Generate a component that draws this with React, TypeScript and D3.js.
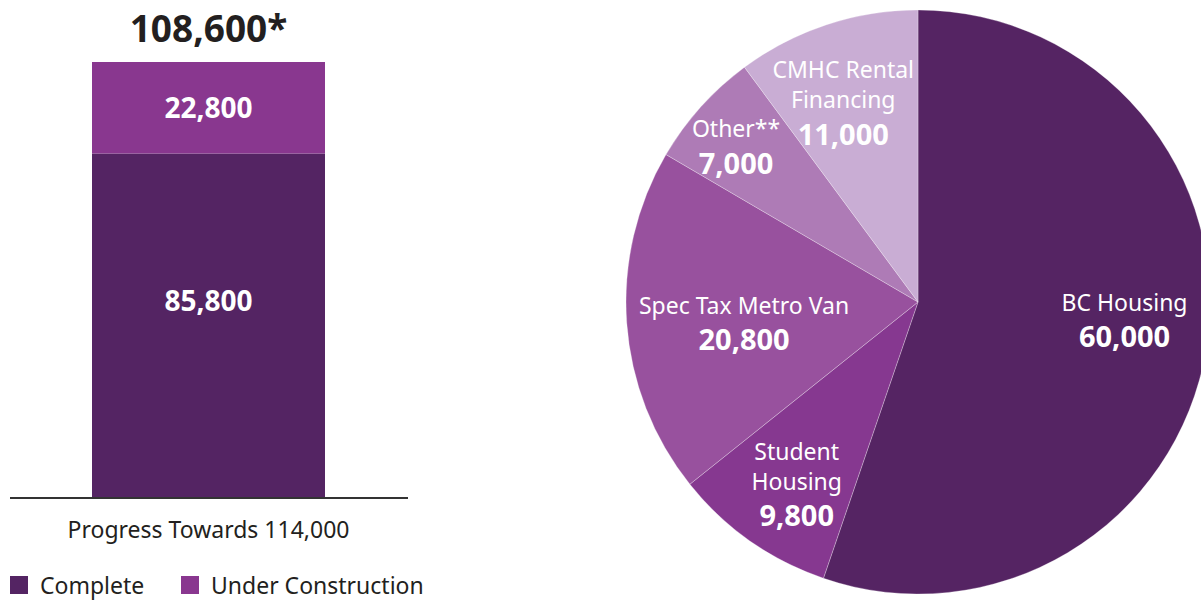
import React from 'react';
import * as d3 from 'd3';

const barSeries = ['Complete', 'Under Construction'];
const barValues = [85800, 22800];
const barColors = ['#542463', '#89378F'];
const barTotalLabel = '108,600*';
const barCaption = 'Progress Towards 114,000';

const pieNames = [
  ['BC Housing'],
  ['Student', 'Housing'],
  ['Spec Tax Metro Van'],
  ['Other**'],
  ['CMHC Rental', 'Financing'],
];
const pieValues = [60000, 9800, 20800, 7000, 11000];
const pieColors = ['#552463', '#863890', '#98519E', '#AE7BB6', '#C9ADD4'];
// label anchor in the slice, as [fraction of radius, angle shift in degrees]
const pieLabelPos = [
  [0.71, -4.5],
  [0.75, -1.5],
  [0.6, -2.7],
  [0.82, -1.4],
  [0.73, -2.3],
];

const fmt = d3.format(',');
const FONT = '"Noto Sans", "Open Sans", sans-serif';

const App = () => {
  const width = 1201;
  const height = 601;

  // bar
  const baseY = 498;
  const y = d3.scaleLinear().domain([0, d3.sum(barValues)]).range([baseY, 62]);
  const barX = 92;
  const barW = 233;
  const barCx = barX + barW / 2;
  const labelFrac = [0.57, 0.5];
  let acc = 0;
  const stacks = barValues.map((v, i) => {
    const s = { y0: acc, y1: acc + v, v, color: barColors[i] };
    acc += v;
    return s;
  });

  // pie
  const cx = 918;
  const cy = 302;
  const r = 292;
  const arcs = d3.pie<number>().sort(null).value(d => d)(pieValues);
  const arc = d3.arc<d3.PieArcDatum<number>>().innerRadius(0).outerRadius(r);

  return (
    <svg width={width} height={height} style={{ position: 'absolute', left: 0, top: 0, fontFamily: FONT }}>
      <rect width={width} height={height} fill="#ffffff" />

      {/* stacked bar */}
      <text x={barCx} y={42} textAnchor="middle" fontSize={37} fontWeight={700} fill="#231f20">
        {barTotalLabel}
      </text>
      {stacks.map((s, i) => (
        <g key={i}>
          <rect x={barX} y={y(s.y1)} width={barW} height={y(s.y0) - y(s.y1)} fill={s.color} />
          <text
            x={barCx}
            y={y(s.y0 + s.v * labelFrac[i])}
            dy="0.35em"
            textAnchor="middle"
            fontSize={28}
            fontWeight={700}
            fill="#ffffff"
          >
            {fmt(s.v)}
          </text>
        </g>
      ))}
      <line x1={10} x2={408} y1={baseY} y2={baseY} stroke="#333333" strokeWidth={2} />
      <text x={barCx} y={538} textAnchor="middle" fontSize={23} fill="#231f20">
        {barCaption}
      </text>

      {/* legend */}
      {barSeries.map((name, i) => {
        const lx = 10 + i * 171;
        return (
          <g key={name}>
            <rect x={lx} y={576} width={18} height={18} fill={barColors[i]} />
            <text x={lx + 30} y={594} fontSize={23} fill="#231f20">
              {name}
            </text>
          </g>
        );
      })}

      {/* pie */}
      <g transform={`translate(${cx},${cy})`}>
        {arcs.map((a, i) => (
          <path key={i} d={arc(a) || ''} fill={pieColors[i]} stroke="#ffffff" strokeOpacity={0.35} strokeWidth={0.8} />
        ))}
        {arcs.map((a, i) => {
          const [f, shift] = pieLabelPos[i];
          const mid = (a.startAngle + a.endAngle) / 2 + (shift * Math.PI) / 180;
          const lx = Math.sin(mid) * r * f;
          const ly = -Math.cos(mid) * r * f;
          const lines = pieNames[i];
          const lineH = 30;
          const gap = 34;
          const top = ly - ((lines.length - 1) * lineH + gap) / 2;
          return (
            <g key={i} fill="#ffffff" textAnchor="middle">
              {lines.map((t, j) => (
                <text key={j} x={lx} y={top + j * lineH} dy="0.35em" fontSize={23}>
                  {t}
                </text>
              ))}
              <text x={lx} y={top + (lines.length - 1) * lineH + gap} dy="0.35em" fontSize={29} fontWeight={700}>
                {fmt(pieValues[i])}
              </text>
            </g>
          );
        })}
      </g>
    </svg>
  );
};

export default App;
